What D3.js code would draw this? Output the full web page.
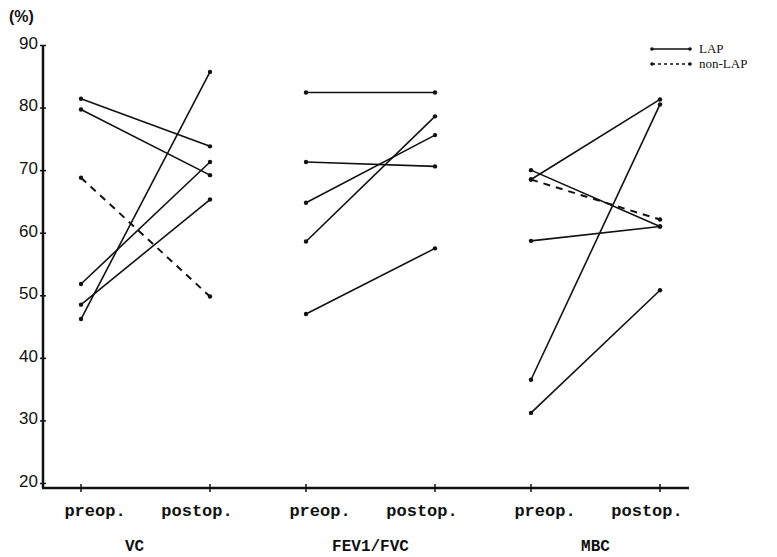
<!DOCTYPE html>
<html>
<head>
<meta charset="utf-8">
<script src="https://cdn.jsdelivr.net/npm/d3@7/dist/d3.min.js"></script>
<style>
  html, body { margin: 0; padding: 0; background: #fff; }
  svg { display: block; }
</style>
</head>
<body>
<svg id="chart" width="777" height="557"></svg>
<script>
// ---- data ----
const groups = ["VC", "FEV1/FVC", "MBC"];
const phases = ["preop.", "postop."];
const yTicks = [20, 30, 40, 50, 60, 70, 80, 90];
const seriesNames = ["LAP", "non-LAP"];

// LAP patients (preop -> postop), per measure
const vcLapPre   = [81.4, 79.7, 51.8, 48.5, 46.2];
const vcLapPost  = [73.8, 69.2, 71.3, 65.3, 85.7];
const fevLapPre  = [82.4, 71.3, 64.8, 58.6, 47.0];
const fevLapPost = [82.4, 70.6, 75.6, 78.6, 57.5];
const mbcLapPre  = [70.0, 68.5, 58.7, 36.5, 31.2];
const mbcLapPost = [61.0, 81.3, 61.0, 80.5, 50.8];

// non-LAP patients
const vcNonPre   = [68.8];
const vcNonPost  = [49.8];
const mbcNonPre  = [68.5];
const mbcNonPost = [62.1];

// build pairs
function pairs(group, pre, post, type) {
  return pre.map((v, i) => ({ group, type, pre: v, post: post[i] }));
}
const segments = [
  ...pairs("VC", vcLapPre, vcLapPost, "LAP"),
  ...pairs("FEV1/FVC", fevLapPre, fevLapPost, "LAP"),
  ...pairs("MBC", mbcLapPre, mbcLapPost, "LAP"),
  ...pairs("VC", vcNonPre, vcNonPost, "non-LAP"),
  ...pairs("MBC", mbcNonPre, mbcNonPost, "non-LAP")
];

// ---- scales ----
const svg = d3.select("#chart");
const axisX0 = 43, axisX1 = 689;
const y = d3.scaleLinear().domain([19.2, 90]).range([488, 45]);
const xGroup = d3.scaleBand().domain(groups).range([33, 708]).padding(0);
const innerW = 129;
const xPhase = d3.scalePoint().domain(phases).range([0, innerW]);
const xPos = (g, p) => xGroup(g) + (xGroup.bandwidth() - innerW) / 2 + xPhase(p);

const ink = "#111";

// ---- axes ----
const yAxis = d3.axisLeft(y).tickValues(yTicks).tickSizeInner(3).tickSizeOuter(0).tickPadding(2)
  .tickFormat(d3.format("d"));
const gy = svg.append("g").attr("transform", `translate(${axisX0},0)`).call(yAxis);
gy.select(".domain").remove();
gy.selectAll(".tick line").attr("stroke", ink).attr("stroke-width", 1.5).attr("x2", 3).attr("x1", -3);
gy.selectAll(".tick text").attr("fill", ink)
  .style("font-family", "'Liberation Sans', Arial, sans-serif")
  .style("font-size", "17px").attr("dy", "0.2em");
svg.append("line").attr("x1", axisX0).attr("x2", axisX0)
  .attr("y1", y(90)).attr("y2", y.range()[0])
  .attr("stroke", ink).attr("stroke-width", 2.5);

// x axis line
svg.append("line").attr("x1", axisX0 - 1).attr("x2", axisX1)
  .attr("y1", y.range()[0]).attr("y2", y.range()[0])
  .attr("stroke", ink).attr("stroke-width", 2.5);

// x ticks and labels
const tickData = [];
groups.forEach(g => phases.forEach(p => tickData.push({ g, p })));
const xt = svg.append("g");
xt.selectAll("line").data(tickData).join("line")
  .attr("x1", d => xPos(d.g, d.p)).attr("x2", d => xPos(d.g, d.p))
  .attr("y1", y.range()[0] - 4).attr("y2", y.range()[0] + 4)
  .attr("stroke", ink).attr("stroke-width", 1.5);
xt.selectAll("text").data(tickData).join("text")
  .attr("x", d => xPos(d.g, d.p) + (d.p === phases[0] ? 14 : -13))
  .attr("y", 516)
  .attr("text-anchor", "middle")
  .attr("fill", ink)
  .style("font-family", "'Liberation Mono', 'Courier New', monospace")
  .style("font-weight", "bold")
  .style("font-size", "17px")
  .text(d => d.p);

// group labels
svg.append("g").selectAll("text").data(groups).join("text")
  .attr("x", d => xGroup(d) + xGroup.bandwidth() / 2 + (d === "VC" ? -11 : 0))
  .attr("y", 551)
  .attr("text-anchor", "middle")
  .attr("fill", ink)
  .style("font-family", "'Liberation Mono', 'Courier New', monospace")
  .style("font-weight", "bold")
  .style("font-size", "16px")
  .text(d => d);

// unit label
svg.append("text").attr("x", 9).attr("y", 22)
  .attr("fill", ink)
  .style("font-family", "'Liberation Sans', Arial, sans-serif")
  .style("font-weight", "bold").style("font-size", "16px")
  .text("(%)");

// ---- data lines ----
const lineG = svg.append("g");
lineG.selectAll("line").data(segments).join("line")
  .attr("x1", d => xPos(d.group, phases[0]))
  .attr("x2", d => xPos(d.group, phases[1]))
  .attr("y1", d => y(d.pre))
  .attr("y2", d => y(d.post))
  .attr("stroke", ink)
  .attr("stroke-width", d => d.type === "LAP" ? 1.6 : 2)
  .attr("stroke-dasharray", d => d.type === "LAP" ? null : "7,6");

const pts = [];
segments.forEach(s => {
  pts.push({ x: xPos(s.group, phases[0]), v: s.pre });
  pts.push({ x: xPos(s.group, phases[1]), v: s.post });
});
lineG.selectAll("circle").data(pts).join("circle")
  .attr("cx", d => d.x).attr("cy", d => y(d.v)).attr("r", 2.2)
  .attr("fill", ink);

// ---- legend ----
const leg = svg.append("g");
const legY = [49, 64];
seriesNames.forEach((name, i) => {
  leg.append("line").attr("x1", 652).attr("x2", 690)
    .attr("y1", legY[i]).attr("y2", legY[i])
    .attr("stroke", ink).attr("stroke-width", 1.6)
    .attr("stroke-dasharray", i === 0 ? null : "3,3");
  leg.append("circle").attr("cx", 652).attr("cy", legY[i]).attr("r", 1.8).attr("fill", ink);
  leg.append("circle").attr("cx", 690).attr("cy", legY[i]).attr("r", 1.8).attr("fill", ink);
  leg.append("text").attr("x", 699).attr("y", legY[i]).attr("dy", "0.33em")
    .attr("fill", ink)
    .style("font-family", "'Liberation Serif', 'Times New Roman', serif")
    .style("font-size", "13px")
    .text(name);
});
</script>
</body>
</html>
